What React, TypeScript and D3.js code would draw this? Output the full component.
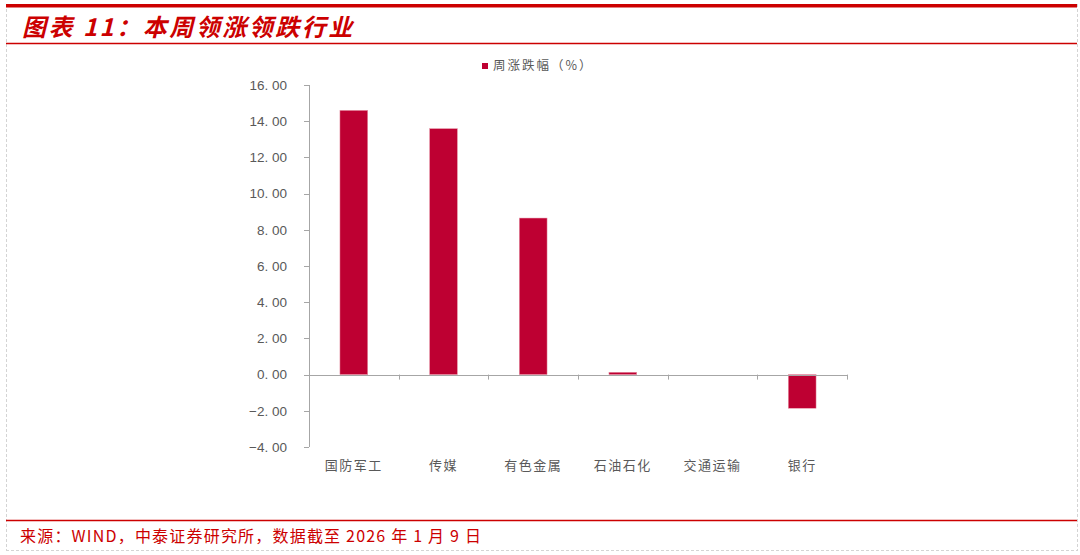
import React from "react";
import * as d3 from "d3";

// Weekly top gainers / losers by industry
const categories = ["国防军工", "传媒", "有色金属", "石油石化", "交通运输", "银行"];
const weeklyChange = [14.6, 13.59, 8.65, 0.13, 0.0, -1.86];
const yTicks = [16, 14, 12, 10, 8, 6, 4, 2, 0, -2, -4];

const titleText = "图表 11：本周领涨领跌行业";
const legendText = "周涨跌幅（%）";
const sourceText = "来源：WIND，中泰证券研究所，数据截至 2026 年 1 月 9 日";

const W = 1080;
const H = 555;
const RED = "#CC0000";
const BAR = "#BE0032";
const AXIS = "#A6A6A6";
const TEXT = "#595959";
const CJK = "'Noto Sans CJK SC', 'Noto Sans', sans-serif";
const NUM = "'Liberation Sans', Arial, sans-serif";

export default function App() {
  const plot = { left: 309, right: 847, top: 85, bottom: 447 };

  const x = d3
    .scaleBand<string>()
    .domain(categories)
    .range([plot.left, plot.right])
    .paddingInner(0)
    .paddingOuter(0);

  const y = d3.scaleLinear().domain([-4, 16]).range([plot.bottom, plot.top]);

  const barW = x.bandwidth() * 0.31;
  const y0 = y(0);

  return (
    <svg
      width={W}
      height={H}
      style={{ position: "absolute", left: 0, top: 0, background: "#fff" }}
    >
      {/* frame */}
      <rect x={0} y={0} width={W} height={H} fill="#fff" />
      <line x1={6.5} y1={4} x2={6.5} y2={551} stroke="#D4D4D4" strokeDasharray="3,2" />
      <line x1={1077.5} y1={4} x2={1077.5} y2={551} stroke="#D4D4D4" strokeDasharray="3,2" />
      <line x1={6} y1={550.5} x2={1078} y2={550.5} stroke="#D4D4D4" strokeDasharray="3,2" />
      <rect x={6} y={4} width={1071} height={3.5} fill={RED} />
      <line x1={6} y1={43.5} x2={1077} y2={43.5} stroke={RED} strokeWidth={1.5} />
      <line x1={6} y1={520.5} x2={1077} y2={520.5} stroke={RED} strokeWidth={1.5} />

      {/* title */}
      <text
        x={22}
        y={36}
        fill={RED}
        fontFamily={CJK}
        fontSize={24}
        fontWeight="bold"
        fontStyle="italic"
        letterSpacing={2.5}
      >
        {titleText}
      </text>

      {/* legend */}
      <rect x={482} y={63} width={6} height={6} fill={BAR} />
      <text x={493} y={70} fill={TEXT} fontFamily={CJK} fontSize={12.5} letterSpacing={2}>
        {legendText}
      </text>

      {/* y axis */}
      <line x1={plot.left + 0.5} y1={plot.top} x2={plot.left + 0.5} y2={plot.bottom} stroke={AXIS} />
      {yTicks.map((t) => (
        <g key={t}>
          <line
            x1={plot.left - 5}
            x2={plot.left}
            y1={Math.round(y(t)) + 0.5}
            y2={Math.round(y(t)) + 0.5}
            stroke={AXIS}
          />
          <text
            x={287}
            y={y(t)}
            dy="0.35em"
            textAnchor="end"
            fill={TEXT}
            fontFamily={NUM}
            fontSize={13.5}
          >
            {d3.format(".2f")(t).replace(".", ". ")}
          </text>
        </g>
      ))}

      {/* bars */}
      {categories.map((c, i) => {
        const v = weeklyChange[i];
        const cx = (x(c) as number) + x.bandwidth() / 2;
        const top = Math.min(y(v), y0);
        const h = Math.abs(y(v) - y0);
        return (
          <rect
            key={c}
            x={cx - barW / 2}
            y={top}
            width={barW}
            height={h}
            fill={BAR}
            stroke="#E9A0B0"
            strokeWidth={0.5}
          />
        );
      })}

      {/* x axis at zero */}
      <line x1={plot.left} x2={plot.right} y1={Math.round(y0) + 0.5} y2={Math.round(y0) + 0.5} stroke={AXIS} />
      {d3.range(categories.length + 1).map((i) => {
        const xp = Math.round(plot.left + i * x.bandwidth()) + 0.5;
        return (
          <line key={i} x1={xp} x2={xp} y1={y0} y2={y0 + 5} stroke={AXIS} />
        );
      })}

      {/* category labels */}
      {categories.map((c) => (
        <text
          key={c}
          x={(x(c) as number) + x.bandwidth() / 2}
          y={470}
          textAnchor="middle"
          fill={TEXT}
          fontFamily={CJK}
          fontSize={13}
          letterSpacing={1.5}
        >
          {c}
        </text>
      ))}

      {/* source */}
      <text x={20} y={542} fill={RED} fontFamily={CJK} fontSize={16} letterSpacing={1.2}>
        {sourceText}
      </text>
    </svg>
  );
}
